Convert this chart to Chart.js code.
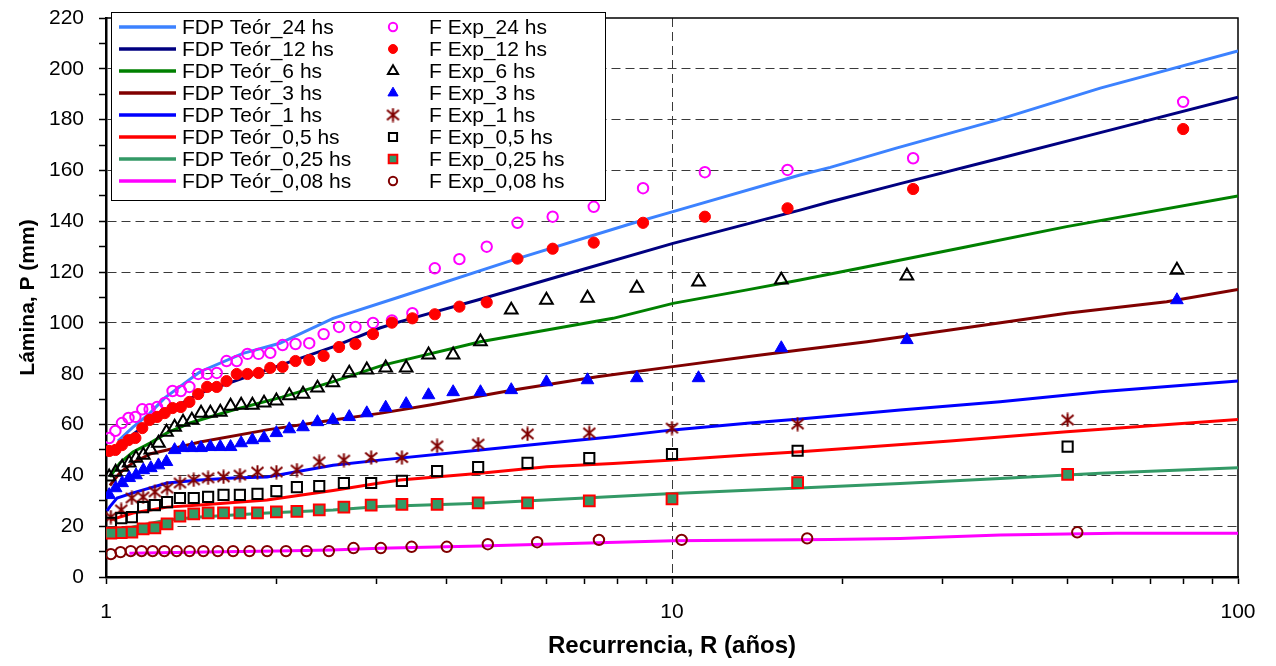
<!DOCTYPE html>
<html>
<head>
<meta charset="utf-8">
<script src="https://cdn.jsdelivr.net/npm/chart.js@4.4.1/dist/chart.umd.min.js"></script>
<style>
  html, body { margin: 0; padding: 0; background: #fff; }
  #wrap { width: 1276px; height: 666px; position: relative; }
</style>
</head>
<body>
<div id="wrap"><canvas id="chart" width="1276" height="666"></canvas></div>
<script>
// ---- Recurrence (years) of the empirical points, per record length ----
const rN40 = [80, 26.67, 16, 11.43, 8.889, 7.273, 6.154, 5.333, 4.706, 4.211, 3.81, 3.478, 3.2, 2.963, 2.759, 2.581, 2.424, 2.286, 2.162, 2.051, 1.951, 1.86, 1.778, 1.702, 1.633, 1.569, 1.509, 1.455, 1.404, 1.356, 1.311, 1.27, 1.231, 1.194, 1.159, 1.127, 1.096, 1.067, 1.039, 1.013];
const rN39 = [78, 26, 15.6, 11.14, 8.667, 7.091, 6, 5.2, 4.588, 4.105, 3.714, 3.391, 3.12, 2.889, 2.69, 2.516, 2.364, 2.229, 2.108, 2, 1.902, 1.814, 1.733, 1.66, 1.592, 1.529, 1.472, 1.418, 1.368, 1.322, 1.279, 1.238, 1.2, 1.164, 1.13, 1.099, 1.068, 1.04, 1.013];
const rN25 = [50, 16.67, 10, 7.143, 5.556, 4.545, 3.846, 3.333, 2.941, 2.632, 2.381, 2.174, 2, 1.852, 1.724, 1.613, 1.515, 1.429, 1.351, 1.282, 1.22, 1.163, 1.111, 1.064, 1.02];
const rN26 = [52, 17.33, 10.4, 7.429, 5.778, 4.727, 4, 3.467, 3.059, 2.737, 2.476, 2.261, 2.08, 1.926, 1.793, 1.677, 1.576, 1.486, 1.405, 1.333, 1.268, 1.209, 1.156, 1.106, 1.061, 1.02];

// ---- Empirical depth (mm) ----
const exp24  = [187, 164.8, 160.2, 159.3, 153, 145.7, 141.8, 139.4, 130, 125.1, 121.5, 103.8, 101, 100, 98.4, 98.4, 95.6, 92, 91.7, 91.3, 88.2, 87.8, 87.8, 85, 85, 80.3, 79.9, 79.9, 74.8, 73.2, 73.2, 68.5, 66.9, 66, 66, 63, 62.6, 60.6, 57.5, 54.7];
const exp12  = [176.3, 152.7, 145.1, 141.8, 139.4, 131.6, 129.2, 125.3, 108.1, 106.4, 103.4, 101.8, 100.1, 95.6, 91.7, 90.5, 87, 85.4, 85, 82.7, 82.3, 80.3, 79.9, 79.9, 77.1, 74.8, 74.8, 72, 68.9, 66.9, 66.5, 64.5, 63, 61.8, 58.6, 54.7, 53.9, 51.9, 50, 49.6];
const exp6   = [120.8, 118.5, 116.9, 116.2, 113.7, 109.8, 109, 105.1, 92.6, 87.4, 87.4, 82.3, 82.3, 81.5, 80.3, 76.5, 74.4, 72, 71.4, 69.3, 68.5, 67.7, 67.7, 67.3, 64.9, 64.5, 64.5, 61.8, 61, 59, 57, 52.7, 50, 48, 46.8, 44.9, 43.3, 41.3, 39.4];
const exp3   = [109, 93.3, 90.1, 78.3, 78.3, 77.5, 76.7, 73.6, 72.8, 72.8, 71.6, 68.1, 66.7, 64.5, 63, 61.8, 61, 59, 58.2, 56.7, 54.7, 53.9, 52.7, 51.2, 51.2, 51.2, 50.8, 50.8, 50.8, 50, 45.3, 44, 42.9, 42.1, 40.1, 39, 37, 35, 32.3];
const exp1   = [61.8, 60.2, 58.6, 56.7, 56.3, 52.3, 51.6, 47, 47, 46, 45.3, 42.1, 41.3, 41.3, 40.1, 39.4, 39, 38.2, 37, 35, 33.5, 31.5, 31.1, 26.4, 23.6];
const exp05  = [51.3, 49.7, 48.4, 46.8, 44.9, 43.3, 41.7, 37.8, 37, 37, 35.8, 35.4, 33.8, 32.7, 32.3, 32.3, 31.5, 31.1, 31.1, 29.5, 28.3, 27.5, 23.6, 23.2, 21.3];
const exp025 = [40.4, 37.1, 30.7, 30, 29.2, 29.2, 28.6, 28.6, 28.3, 27.5, 26.4, 25.8, 25.6, 25.2, 25.2, 25.2, 25.2, 24.8, 24, 20.9, 19.3, 18.9, 17.7, 17.5, 17.3];
const exp008 = [17.6, 15.2, 14.6, 14.6, 13.7, 12.9, 11.9, 11.9, 11.4, 11.4, 10.2, 10.2, 10.2, 10.2, 10.2, 10.2, 10.2, 10.2, 10.2, 10.2, 10.2, 10.2, 10.2, 10.2, 9.8, 9];

// ---- Theoretical distribution curves: recurrence (years) and depth (mm) ----
const fdp24R  = [1.05, 1.116, 1.196, 1.27, 1.466, 1.746, 2.028, 2.519, 3.309, 5.245, 8.515, 10.04, 16.83, 19.04, 24.9, 37.5, 57.1, 100];
const fdp24P  = [53.5, 59, 64.5, 70.5, 80.8, 88, 92, 101.8, 110.3, 124.8, 139.2, 143.8, 158.2, 161.2, 168.8, 179.8, 192.4, 207];
const fdp12R  = [1.03, 1.1, 1.2, 1.466, 1.925, 2.519, 3.046, 3.309, 4.584, 6.876, 10.04, 16.83, 19.04, 25.3, 38, 57.1, 100];
const fdp12P  = [49.5, 55, 61.5, 72.4, 81.5, 90.6, 98, 100.5, 109.3, 120.7, 131.3, 144.4, 147.7, 154.8, 164.8, 174.9, 188.8];
const fdp6R   = [1.016, 1.058, 1.116, 1.196, 1.282, 1.407, 1.677, 2.046, 2.519, 3.087, 4.584, 6.009, 7.868, 10.04, 13.57, 16.83, 22.1, 33.2, 49.8, 100];
const fdp6P   = [39.4, 44.9, 49.2, 52.7, 56.7, 60.6, 65.7, 70.8, 76.9, 83.4, 92.6, 97.2, 101.8, 107.7, 113, 116.9, 122.1, 130, 137.9, 150];
const fdp3R   = [1.016, 1.058, 1.116, 1.2, 1.282, 1.466, 1.925, 2.519, 3.046, 3.735, 5.245, 7.376, 10.04, 13.57, 16.83, 22.1, 31, 49.8, 74.8, 100];
const fdp3P   = [36, 41, 45, 48.5, 50, 53.1, 57.9, 61.8, 64.4, 67.7, 73.6, 78.8, 82.8, 86.7, 89.3, 92.6, 97.2, 103.8, 108.3, 113.2];
const fdp1R   = [1.004, 1.016, 1.046, 1.116, 1.282, 1.466, 1.677, 1.925, 2.519, 3.046, 4.584, 6.009, 7.868, 10.04, 13.57, 16.83, 25.3, 38, 57.1, 100];
const fdp1P   = [26, 27.7, 31.1, 33.1, 37, 38.2, 39, 39.4, 44, 46, 50, 52.6, 55.2, 57.9, 60.5, 62.2, 65.7, 69, 72.9, 77.1];
const fdp05R  = [1.016, 1.116, 1.282, 1.466, 1.925, 2.519, 3.046, 3.309, 4.584, 6.009, 7.868, 10.04, 13.57, 16.83, 22.1, 31, 49.8, 100];
const fdp05P  = [22.4, 25.2, 27.5, 28.3, 30.3, 34, 37, 38.2, 40.8, 43.4, 44.7, 46, 48, 49.3, 51.2, 53.5, 57.2, 62];
const fdp025R = [1.016, 1.116, 1.282, 1.466, 1.925, 2.519, 3.046, 4.584, 6.876, 10.04, 16.83, 25.3, 38, 57.1, 100];
const fdp025P = [17, 19.7, 22.4, 23.6, 25.2, 26.4, 27.7, 29, 31, 32.9, 35, 36.8, 38.8, 40.8, 43];
const fdp008R = [1.1, 1.5, 2, 2.5, 3.046, 4.584, 6.876, 10.04, 19.04, 25.3, 38, 61, 100];
const fdp008P = [9.3, 9.8, 10.2, 10.6, 11.3, 12.2, 13.3, 14.3, 14.8, 15.2, 16.5, 17.2, 17.2];

// ---- Axis ticks ----
const xTickValues = [1, 2, 3, 4, 5, 6, 7, 8, 9, 10, 20, 30, 40, 50, 60, 70, 80, 90, 100];
const xTickLabels = [1, 10, 100];
const yTickLabels = [0, 20, 40, 60, 80, 100, 120, 140, 160, 180, 200, 220];

const FONT = "'Liberation Sans', Arial, sans-serif";
Chart.defaults.font.family = FONT;
Chart.defaults.color = '#000';

// Asterisk marker: two diagonals plus a vertical bar
function asteriskMarker(color) {
  const size = 15, c = document.createElement('canvas');
  c.width = size; c.height = size;
  const g = c.getContext('2d');
  const m = size / 2;
  g.strokeStyle = color; g.lineWidth = 2; g.lineCap = 'butt';
  g.beginPath();
  g.moveTo(m - 6, m - 5); g.lineTo(m + 6, m + 5);
  g.moveTo(m + 6, m - 5); g.lineTo(m - 6, m + 5);
  g.moveTo(m, m - 7); g.lineTo(m, m + 7);
  g.stroke();
  return c;
}

const pairs = (xs, ys) => xs.map((x, i) => ({ x: x, y: ys[i] }));

const lineSeries = [
  { label: 'FDP Teór_24 hs',   r: fdp24R,  p: fdp24P,  color: '#3C82FF' },
  { label: 'FDP Teór_12 hs',   r: fdp12R,  p: fdp12P,  color: '#000080' },
  { label: 'FDP Teór_6 hs',    r: fdp6R,   p: fdp6P,   color: '#008000' },
  { label: 'FDP Teór_3 hs',    r: fdp3R,   p: fdp3P,   color: '#800000' },
  { label: 'FDP Teór_1 hs',    r: fdp1R,   p: fdp1P,   color: '#0000FF' },
  { label: 'FDP Teór_0,5 hs',  r: fdp05R,  p: fdp05P,  color: '#FF0000' },
  { label: 'FDP Teór_0,25 hs', r: fdp025R, p: fdp025P, color: '#339966' },
  { label: 'FDP Teór_0,08 hs', r: fdp008R, p: fdp008P, color: '#FF00FF' }
];

const NONE = 'rgba(0,0,0,0)';
const expSeries = [
  { label: 'F Exp_24 hs',   r: rN40, p: exp24,  style: 'circle',   radius: 5.2, fill: NONE,      stroke: '#FF00FF', bw: 2 },
  { label: 'F Exp_12 hs',   r: rN40, p: exp12,  style: 'circle',   radius: 5.6, fill: '#FF0000', stroke: '#FF0000', bw: 1 },
  { label: 'F Exp_6 hs',    r: rN39, p: exp6,   style: 'triangle', radius: 7.3, fill: NONE,      stroke: '#000000', bw: 2 },
  { label: 'F Exp_3 hs',    r: rN39, p: exp3,   style: 'triangle', radius: 7.3, fill: '#0000FF', stroke: '#0000FF', bw: 1 },
  { label: 'F Exp_1 hs',    r: rN25, p: exp1,   style: asteriskMarker('#800000'), radius: 7, fill: NONE, stroke: '#800000', bw: 2 },
  { label: 'F Exp_0,5 hs',  r: rN25, p: exp05,  style: 'rect',     radius: 7.2, fill: NONE,      stroke: '#000000', bw: 2 },
  { label: 'F Exp_0,25 hs', r: rN25, p: exp025, style: 'rect',     radius: 7.6, fill: '#339966', stroke: '#FF0000', bw: 2 },
  { label: 'F Exp_0,08 hs', r: rN26, p: exp008, style: 'circle',   radius: 5.2, fill: NONE,      stroke: '#800000', bw: 2 }
];

const datasets = [];
lineSeries.forEach((s, i) => datasets.push({
  label: s.label,
  data: pairs(s.r, s.p),
  showLine: true,
  borderColor: s.color,
  backgroundColor: s.color,
  borderWidth: 3,
  pointRadius: 0,
  tension: 0,
  fill: false,
  order: 40 - i
}));
expSeries.forEach((s, i) => datasets.push({
  label: s.label,
  data: pairs(s.r, s.p),
  showLine: false,
  pointStyle: s.style,
  pointRadius: s.radius,
  pointBackgroundColor: s.fill,
  pointBorderColor: s.stroke,
  pointBorderWidth: s.bw,
  order: 20 - i
}));

// Top and right edges of the plot frame
const framePlugin = {
  id: 'plotFrame',
  beforeDatasetsDraw(chart) {
    const { ctx, chartArea: a } = chart;
    ctx.save();
    ctx.strokeStyle = '#000';
    ctx.lineWidth = 1.5;
    ctx.beginPath();
    ctx.moveTo(a.left, a.top);
    ctx.lineTo(a.right, a.top);
    ctx.lineTo(a.right, a.bottom);
    ctx.stroke();
    ctx.restore();
  }
};

function drawLegendMarker(ctx, s, x, y, k) {
  ctx.save();
  if (s.style instanceof HTMLCanvasElement) {
    ctx.drawImage(s.style, x - s.style.width / 2, y - s.style.height / 2);
    ctx.restore();
    return;
  }
  const r = s.radius * k;
  ctx.beginPath();
  if (s.style === 'circle') {
    ctx.arc(x, y, r, 0, Math.PI * 2);
  } else if (s.style === 'triangle') {
    ctx.moveTo(x, y - r);
    ctx.lineTo(x + r * Math.sin(Math.PI * 2 / 3), y + r * 0.5);
    ctx.lineTo(x - r * Math.sin(Math.PI * 2 / 3), y + r * 0.5);
    ctx.closePath();
  } else {
    const h = r * Math.SQRT1_2;
    ctx.rect(x - h, y - h, 2 * h, 2 * h);
  }
  ctx.fillStyle = s.fill;
  ctx.fill();
  ctx.lineWidth = s.bw;
  ctx.strokeStyle = s.stroke;
  ctx.stroke();
  ctx.restore();
}

// Boxed two-column legend: curves on the left, point series on the right
const legendPlugin = {
  id: 'boxLegend',
  afterDraw(chart) {
    const ctx = chart.ctx;
    const box = { x: 111, y: 12, w: 494, h: 188 };
    const row0 = 27, rowH = 22;
    ctx.save();
    ctx.fillStyle = '#fff';
    ctx.fillRect(box.x, box.y, box.w, box.h);
    ctx.strokeStyle = '#000';
    ctx.lineWidth = 1;
    ctx.strokeRect(box.x + 0.5, box.y + 0.5, box.w, box.h);
    ctx.font = '21px ' + FONT;
    ctx.textBaseline = 'middle';
    ctx.textAlign = 'left';
    lineSeries.forEach((s, i) => {
      const y = row0 + i * rowH;
      ctx.strokeStyle = s.color;
      ctx.lineWidth = 3.5;
      ctx.beginPath();
      ctx.moveTo(119, y);
      ctx.lineTo(176, y);
      ctx.stroke();
      ctx.fillStyle = '#000';
      ctx.fillText(s.label, 182, y + 1);
    });
    expSeries.forEach((s, i) => {
      const y = row0 + i * rowH;
      drawLegendMarker(ctx, s, 393, y, 0.8);
      ctx.fillStyle = '#000';
      ctx.fillText(s.label, 429, y + 1);
    });
    ctx.restore();
  }
};

const gridDash = [9, 5];

new Chart(document.getElementById('chart'), {
  type: 'scatter',
  data: { datasets: datasets },
  options: {
    responsive: false,
    devicePixelRatio: 1,
    animation: false,
    events: [],
    layout: { padding: { top: 18, right: 38, left: 0, bottom: 0 } },
    plugins: {
      legend: { display: false },
      tooltip: { enabled: false }
    },
    scales: {
      x: {
        type: 'logarithmic',
        min: 1,
        max: 100,
        afterBuildTicks: s => { s.ticks = xTickValues.map(v => ({ value: v })); },
        afterFit: s => { s.height = 89; s.paddingRight = 0; s.paddingLeft = 0; },
        ticks: {
          autoSkip: false,
          maxRotation: 0,
          minRotation: 0,
          padding: 16,
          color: '#000',
          font: { size: 21 },
          callback: v => xTickLabels.includes(v) ? String(v) : ''
        },
        grid: {
          color: c => (c.tick && c.tick.value === 10) ? '#3a3a3a' : NONE,
          lineWidth: 1,
          drawTicks: true,
          tickColor: '#000',
          tickLength: 7,
          tickWidth: 1.5,
          tickBorderDash: []
        },
        border: { display: true, color: '#000', width: 2.5, dash: gridDash },
        title: {
          display: true,
          text: 'Recurrencia, R (años)',
          color: '#000',
          font: { size: 24, weight: 'bold' },
          padding: { top: 0, bottom: 5 }
        }
      },
      y: {
        min: 0,
        max: 220,
        afterFit: s => { s.width = 106; s.paddingTop = 0; s.paddingBottom = 0; },
        ticks: {
          stepSize: 10,
          autoSkip: false,
          padding: 15,
          color: '#000',
          font: { size: 21 },
          callback: v => yTickLabels.includes(v) ? String(v) : ''
        },
        grid: {
          color: c => (c.tick && c.tick.value % 20 === 0 && c.tick.value > 0 && c.tick.value < 220) ? '#3a3a3a' : NONE,
          lineWidth: 1,
          drawTicks: true,
          tickColor: '#000',
          tickLength: 7,
          tickWidth: 1.5,
          tickBorderDash: []
        },
        border: { display: true, color: '#000', width: 2.5, dash: gridDash },
        title: {
          display: true,
          text: 'Lámina, P (mm)',
          color: '#000',
          font: { size: 21, weight: 'bold' },
          padding: { top: 16, bottom: 0 }
        }
      }
    }
  },
  plugins: [framePlugin, legendPlugin]
});
</script>
</body>
</html>
